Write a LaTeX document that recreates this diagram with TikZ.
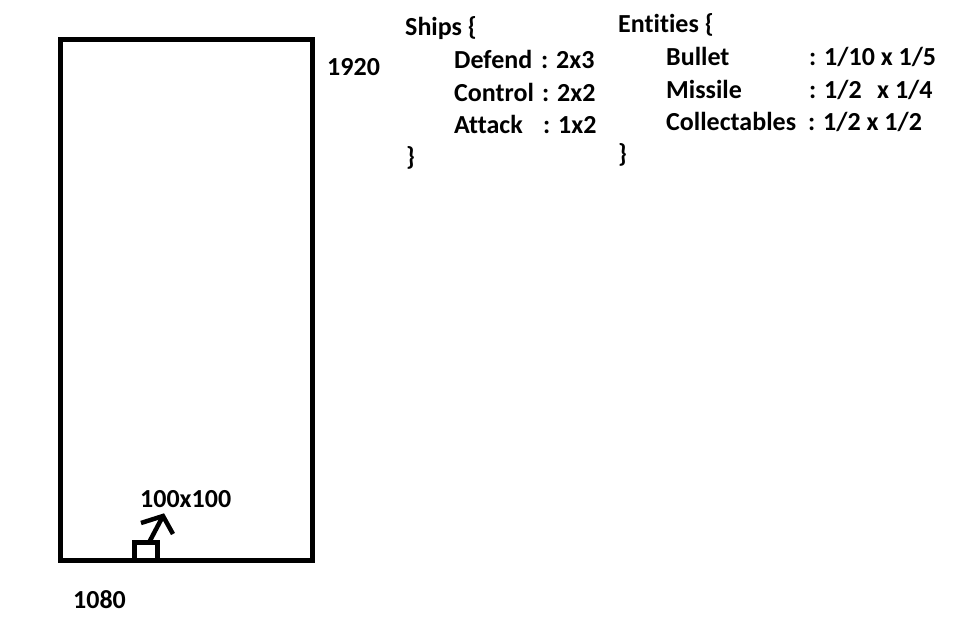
\documentclass[tikz,border=0pt]{standalone}
\usepackage{fontspec}
\setmainfont{Carlito}[Ligatures=NoCommon]
\usepackage{tikz}
\usetikzlibrary{arrows.meta,positioning,calc}
\tikzset{
  lbl/.style={anchor=base west, inner sep=0pt, font=\bfseries\fontsize{26}{31}\selectfont},
  thickline/.style={line width=5pt}
}
\begin{document}
\begin{tikzpicture}[x=1pt, y=-1pt]
        \useasboundingbox (0,0) rectangle (955,633);
        % screen and player
        \draw[thickline] (60,39.5) rectangle (312,560.5);
        \draw[thickline] (134,560.5) -- (134,542.5) -- (157,542.5) -- (157,560.5);
        \coordinate (ship) at (149,542.5);
        \coordinate (tip) at (163,516);
        \coordinate (barbl) at (141,523);
        \coordinate (barbr) at (173,534);
        \draw[line width=4.5pt] (ship) -- (tip);
        \draw[line width=4.5pt, line join=miter] (barbl) -- (tip) -- (barbr);
        \node[lbl] (size) at (140,507) {100x100};
        \node[lbl] (height) at (327,75) {1920};
        \node[lbl] (width) at (73,608) {1080};
        % ships
        \node[lbl] (ships) at (405,35) {Ships \{};
        \node[lbl] (defend) at (454,68) {Defend};
        \node[lbl] (control) at (454,101) {Control};
        \node[lbl] (attack) at (454,133) {Attack};
        \node[lbl] at (541,68) {: 2x3};
        \node[lbl] at (542,101) {: 2x2};
        \node[lbl] at (543,133) {: 1x2};
        \node[lbl] (shipsend) at (406,165) {\}};
        % entities
        \node[lbl] (entities) at (618,32) {Entities \{};
        \node[lbl] (bullet) at (666,65) {Bullet};
        \node[lbl] (missile) at (666,98) {Missile};
        \node[lbl] (collect) at (666,130) {Collectables};
        \node[lbl] at (809,65) {: 1/10 x 1/5};
        \node[lbl] at (809,98) {: 1/2};
        \node[lbl] at (877,98) {x 1/4};
        \node[lbl] at (808,130) {: 1/2 x 1/2};
        \node[lbl] (entitiesend) at (618,162) {\}};
    \end{tikzpicture}
\end{document}
